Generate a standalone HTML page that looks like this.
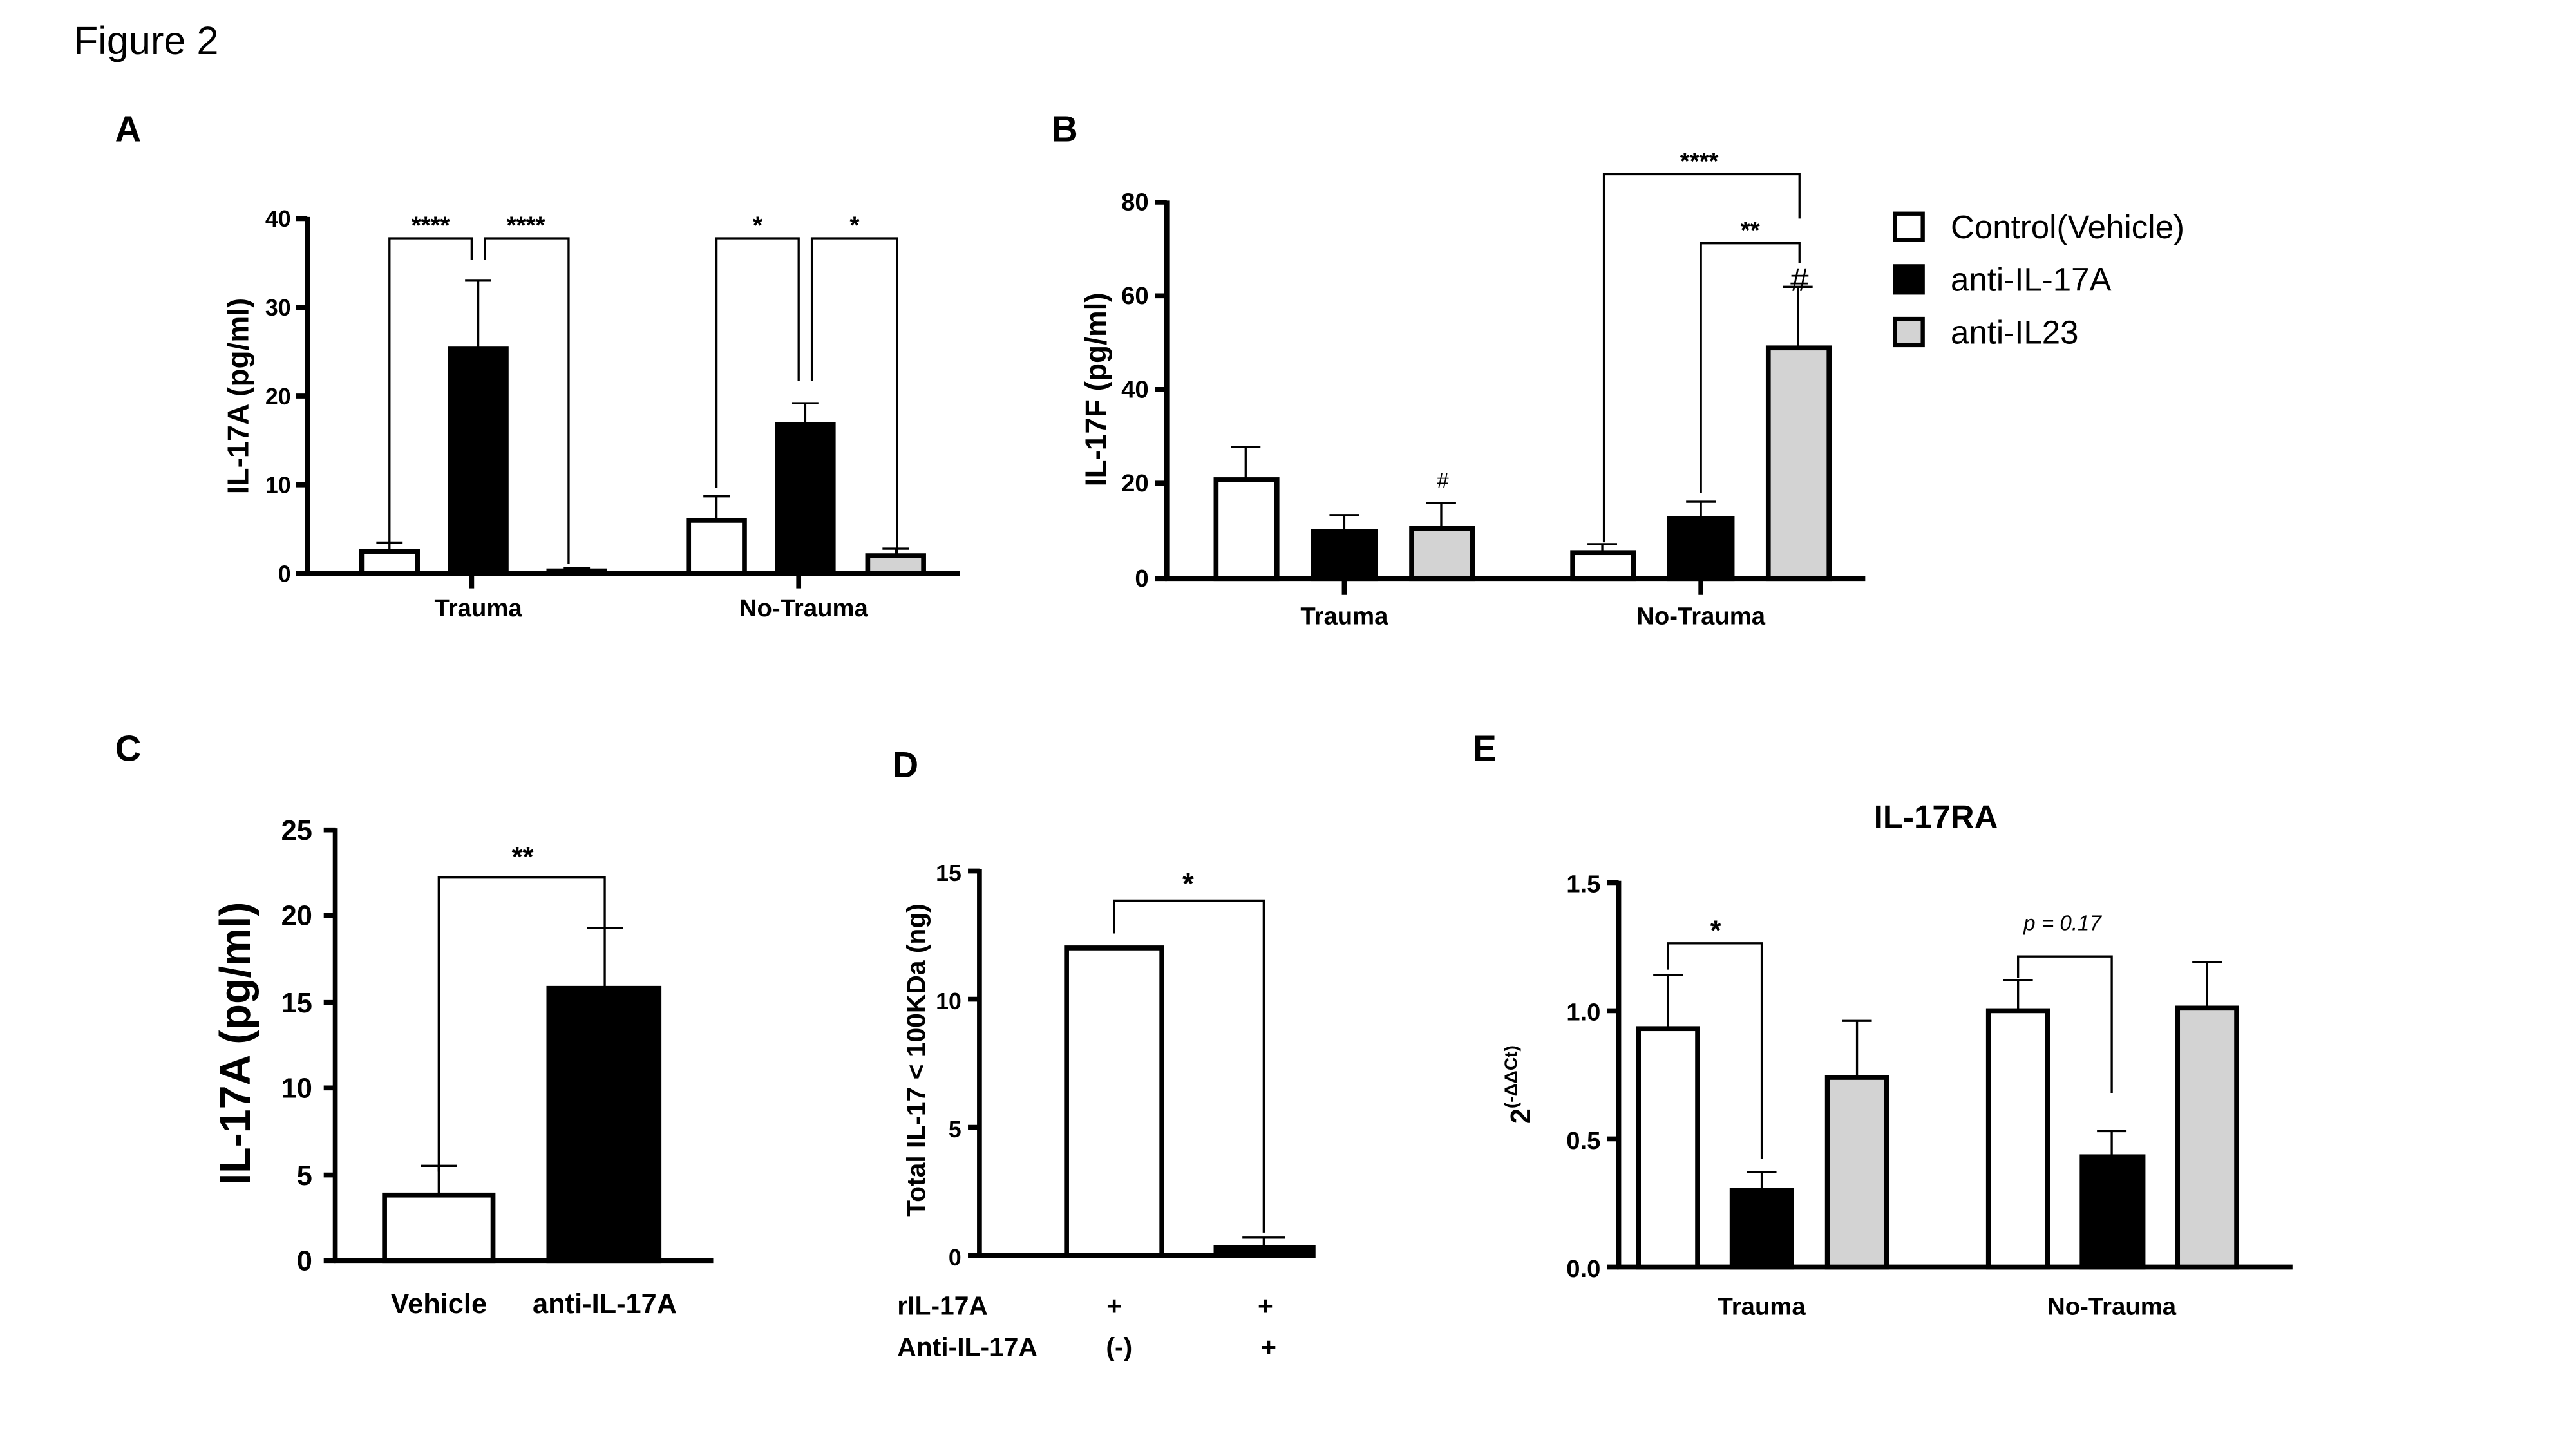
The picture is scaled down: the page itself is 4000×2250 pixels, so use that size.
<!DOCTYPE html>
<html><head><meta charset="utf-8"><style>html,body{margin:0;padding:0;background:#fff}svg{display:block}</style></head>
<body>
<svg width="4000" height="2250" viewBox="0 0 1567.5 881.7" preserveAspectRatio="none" xmlns="http://www.w3.org/2000/svg" font-family="Liberation Sans, Arial, sans-serif">
<rect width="1600" height="900" fill="#fff"/>
<text x="45" y="33" font-size="24">Figure 2</text>
<g font-weight="bold" font-size="22">
<text x="70" y="86">A</text><text x="640" y="86">B</text><text x="70" y="463">C</text><text x="543" y="473">D</text><text x="896" y="463">E</text>
</g>

<!-- Panel A -->
<g stroke="#000" fill="none">
<g stroke-width="3">
<line x1="187" y1="132" x2="187" y2="350"/><line x1="186" y1="349" x2="584" y2="349"/>
<line x1="180" y1="133" x2="187" y2="133"/><line x1="180" y1="187" x2="187" y2="187"/><line x1="180" y1="241" x2="187" y2="241"/><line x1="180" y1="295" x2="187" y2="295"/><line x1="180" y1="349" x2="187" y2="349"/>
<line x1="287" y1="349" x2="287" y2="358"/><line x1="486" y1="349" x2="486" y2="358"/>
</g>
<g stroke-width="1.3">
<line x1="237" y1="335.5" x2="237" y2="330.1"/><line x1="229" y1="330.1" x2="245" y2="330.1"/>
<line x1="291" y1="212.4" x2="291" y2="170.8"/><line x1="283" y1="170.8" x2="299" y2="170.8"/>
<line x1="351" y1="347.4" x2="351" y2="345.8"/><line x1="343" y1="345.8" x2="359" y2="345.8"/>
<line x1="436" y1="316.6" x2="436" y2="302"/><line x1="428" y1="302" x2="444" y2="302"/>
<line x1="490" y1="258.3" x2="490" y2="245.3"/><line x1="482" y1="245.3" x2="498" y2="245.3"/>
<line x1="545" y1="338.2" x2="545" y2="333.9"/><line x1="537" y1="333.9" x2="553" y2="333.9"/>
<polyline points="237,330 237,145 287,145 287,158"/><polyline points="295,158 295,145 346,145 346,343"/>
<polyline points="436,297 436,145 486,145 486,232"/><polyline points="494,232 494,145 546,145 546,338"/>
</g>
<g stroke-width="3">
<rect x="220" y="335.5" width="34" height="13.5" fill="#fff"/>
<rect x="274" y="212.4" width="34" height="136.6" fill="#000"/>
<rect x="334" y="347.4" width="34" height="1.6" fill="#d3d3d3"/>
<rect x="419" y="316.6" width="34" height="32.4" fill="#fff"/>
<rect x="473" y="258.3" width="34" height="90.7" fill="#000"/>
<rect x="528" y="338.2" width="34" height="10.8" fill="#d3d3d3"/>
</g>
</g>
<g font-weight="bold" font-size="14" text-anchor="end">
<text x="177" y="138">40</text><text x="177" y="192">30</text><text x="177" y="246">20</text><text x="177" y="300">10</text><text x="177" y="354">0</text>
</g>
<g font-weight="bold" font-size="15" text-anchor="middle">
<text x="291" y="375">Trauma</text><text x="489" y="375">No-Trauma</text>
<text x="262" y="142">****</text><text x="320" y="142">****</text><text x="461" y="142">*</text><text x="520" y="142">*</text>
</g>
<text transform="translate(151,241) rotate(-90)" font-weight="bold" font-size="18" text-anchor="middle">IL-17A (pg/ml)</text>

<!-- Panel B -->
<g stroke="#000" fill="none">
<g stroke-width="3">
<line x1="710" y1="122" x2="710" y2="353"/><line x1="709" y1="352" x2="1135" y2="352"/>
<line x1="703" y1="123" x2="710" y2="123"/><line x1="703" y1="180" x2="710" y2="180"/><line x1="703" y1="237" x2="710" y2="237"/><line x1="703" y1="294" x2="710" y2="294"/><line x1="703" y1="352" x2="710" y2="352"/>
<line x1="818" y1="352" x2="818" y2="362"/><line x1="1035" y1="352" x2="1035" y2="362"/>
</g>
<g stroke-width="1.3">
<line x1="758" y1="291.9" x2="758" y2="271.9"/><line x1="749" y1="271.9" x2="767" y2="271.9"/>
<line x1="818" y1="323.4" x2="818" y2="313.4"/><line x1="809" y1="313.4" x2="827" y2="313.4"/>
<line x1="877" y1="321.4" x2="877" y2="306.2"/><line x1="868" y1="306.2" x2="886" y2="306.2"/>
<line x1="975" y1="336.3" x2="975" y2="331.1"/><line x1="966" y1="331.1" x2="984" y2="331.1"/>
<line x1="1035" y1="315.4" x2="1035" y2="305.3"/><line x1="1026" y1="305.3" x2="1044" y2="305.3"/>
<line x1="1094" y1="211.7" x2="1094" y2="174.5"/><line x1="1085" y1="174.5" x2="1103" y2="174.5"/>
<polyline points="976,330 976,106 1095,106 1095,133"/><polyline points="1035,300 1035,148 1095,148 1095,160"/>
</g>
<g stroke-width="3">
<rect x="740" y="291.9" width="37" height="60.1" fill="#fff"/>
<rect x="799" y="323.4" width="38" height="28.6" fill="#000"/>
<rect x="859" y="321.4" width="37" height="30.6" fill="#d3d3d3"/>
<rect x="957" y="336.3" width="37" height="15.7" fill="#fff"/>
<rect x="1016" y="315.4" width="38" height="36.6" fill="#000"/>
<rect x="1076" y="211.7" width="37" height="140.3" fill="#d3d3d3"/>
</g>
</g>
<g font-weight="bold" font-size="15" text-anchor="end">
<text x="699" y="128">80</text><text x="699" y="185">60</text><text x="699" y="242">40</text><text x="699" y="299">20</text><text x="699" y="357">0</text>
</g>
<g font-weight="bold" font-size="15" text-anchor="middle">
<text x="818" y="380">Trauma</text><text x="1035" y="380">No-Trauma</text>
<text x="1034" y="103">****</text><text x="1065" y="145">**</text>
</g>
<text x="878" y="297" font-size="13" text-anchor="middle">#</text>
<text x="1095" y="177" font-size="20" text-anchor="middle">#</text>
<text transform="translate(673,237) rotate(-90)" font-weight="bold" font-size="18" text-anchor="middle">IL-17F (pg/ml)</text>

<!-- Legend -->
<g stroke="#000" stroke-width="2.5">
<rect x="1153" y="130" width="17" height="16" fill="#fff"/>
<rect x="1153" y="162" width="17" height="16" fill="#000"/>
<rect x="1153" y="194" width="17" height="16" fill="#d3d3d3"/>
</g>
<g font-size="20"><text x="1187" y="145">Control(Vehicle)</text><text x="1187" y="177">anti-IL-17A</text><text x="1187" y="209">anti-IL23</text></g>

<!-- Panel C -->
<g stroke="#000" fill="none">
<g stroke-width="3">
<line x1="204" y1="504" x2="204" y2="768"/><line x1="203" y1="767" x2="434" y2="767"/>
<line x1="197" y1="505" x2="204" y2="505"/><line x1="197" y1="557" x2="204" y2="557"/><line x1="197" y1="610" x2="204" y2="610"/><line x1="197" y1="662" x2="204" y2="662"/><line x1="197" y1="715" x2="204" y2="715"/><line x1="197" y1="767" x2="204" y2="767"/>
</g>
<g stroke-width="1.3">
<line x1="267" y1="727.2" x2="267" y2="709.4"/><line x1="256" y1="709.4" x2="278" y2="709.4"/>
<line x1="368" y1="601.4" x2="368" y2="564.7"/><line x1="357" y1="564.7" x2="379" y2="564.7"/>
<polyline points="267,713 267,534 368,534 368,564"/>
</g>
<g stroke-width="3">
<rect x="234" y="727.2" width="66" height="39.8" fill="#fff"/>
<rect x="334" y="601.4" width="67" height="165.6" fill="#000"/>
</g>
</g>
<g font-weight="bold" font-size="17" text-anchor="end">
<text x="190" y="511">25</text><text x="190" y="563">20</text><text x="190" y="616">15</text><text x="190" y="668">10</text><text x="190" y="721">5</text><text x="190" y="773">0</text>
</g>
<g font-weight="bold" font-size="17" text-anchor="middle">
<text x="267" y="799">Vehicle</text><text x="368" y="799">anti-IL-17A</text><text x="318" y="527">**</text>
</g>
<text transform="translate(152,635) rotate(-90)" font-weight="bold" font-size="26" text-anchor="middle">IL-17A (pg/ml)</text>

<!-- Panel D -->
<g stroke="#000" fill="none">
<g stroke-width="3">
<line x1="596" y1="529" x2="596" y2="765"/><line x1="595" y1="764" x2="798" y2="764"/>
<line x1="589" y1="530" x2="596" y2="530"/><line x1="589" y1="608" x2="596" y2="608"/><line x1="589" y1="686" x2="596" y2="686"/><line x1="589" y1="764" x2="596" y2="764"/>
</g>
<g stroke-width="1.3">
<line x1="769" y1="759.3" x2="769" y2="753.1"/><line x1="756" y1="753.1" x2="782" y2="753.1"/>
<polyline points="678,568 678,548 769,548 769,750"/>
</g>
<g stroke-width="3">
<rect x="649" y="576.8" width="58" height="187.2" fill="#fff"/>
<rect x="740" y="759.3" width="59" height="4.7" fill="#000"/>
</g>
</g>
<g font-weight="bold" font-size="14" text-anchor="end">
<text x="585" y="536">15</text><text x="585" y="614">10</text><text x="585" y="692">5</text><text x="585" y="770">0</text>
</g>
<g font-weight="bold" font-size="16">
<text x="546" y="800">rIL-17A</text><text x="546" y="825">Anti-IL-17A</text>
<text x="678" y="800" text-anchor="middle">+</text><text x="770" y="800" text-anchor="middle">+</text>
<text x="681" y="825" text-anchor="middle">(-)</text><text x="772" y="825" text-anchor="middle">+</text>
</g>
<text x="723" y="544" font-weight="bold" font-size="18" text-anchor="middle">*</text>
<text transform="translate(563,645) rotate(-90)" font-weight="bold" font-size="16" text-anchor="middle">Total IL-17 &lt; 100KDa (ng)</text>

<!-- Panel E -->
<text x="1178" y="504" font-weight="bold" font-size="20" text-anchor="middle">IL-17RA</text>
<g stroke="#000" fill="none">
<g stroke-width="3">
<line x1="985" y1="536" x2="985" y2="772"/><line x1="984" y1="771" x2="1395" y2="771"/>
<line x1="978" y1="537" x2="985" y2="537"/><line x1="978" y1="615" x2="985" y2="615"/><line x1="978" y1="693" x2="985" y2="693"/><line x1="978" y1="771" x2="985" y2="771"/>
</g>
<g stroke-width="1.3">
<line x1="1015" y1="625.9" x2="1015" y2="593.2"/><line x1="1006" y1="593.2" x2="1024" y2="593.2"/>
<line x1="1072" y1="724.2" x2="1072" y2="713.3"/><line x1="1063" y1="713.3" x2="1081" y2="713.3"/>
<line x1="1130" y1="655.6" x2="1130" y2="621.2"/><line x1="1121" y1="621.2" x2="1139" y2="621.2"/>
<line x1="1228" y1="615" x2="1228" y2="596.3"/><line x1="1219" y1="596.3" x2="1237" y2="596.3"/>
<line x1="1285" y1="703.9" x2="1285" y2="688.3"/><line x1="1276" y1="688.3" x2="1294" y2="688.3"/>
<line x1="1343" y1="613.4" x2="1343" y2="585.4"/><line x1="1334" y1="585.4" x2="1352" y2="585.4"/>
<polyline points="1015,590 1015,574 1072,574 1072,705"/>
<polyline points="1228,595 1228,582 1285,582 1285,665"/>
</g>
<g stroke-width="3">
<rect x="997" y="625.9" width="36" height="145.1" fill="#fff"/>
<rect x="1054" y="724.2" width="36" height="46.8" fill="#000"/>
<rect x="1112" y="655.6" width="36" height="115.4" fill="#d3d3d3"/>
<rect x="1210" y="615" width="36" height="156" fill="#fff"/>
<rect x="1267" y="703.9" width="37" height="67.1" fill="#000"/>
<rect x="1325" y="613.4" width="36" height="157.6" fill="#d3d3d3"/>
</g>
</g>
<g font-weight="bold" font-size="15" text-anchor="end">
<text x="974" y="543">1.5</text><text x="974" y="621">1.0</text><text x="974" y="699">0.5</text><text x="974" y="777">0.0</text>
</g>
<g font-weight="bold" font-size="15" text-anchor="middle">
<text x="1072" y="800">Trauma</text><text x="1285" y="800">No-Trauma</text>
<text x="1044" y="572" font-size="17">*</text>
</g>
<text x="1255" y="566" font-style="italic" font-size="13" text-anchor="middle">p = 0.17</text>
<text transform="translate(931,660) rotate(-90)" font-weight="bold" font-size="17" text-anchor="middle">2<tspan font-size="11" dy="-8">(-ΔΔCt)</tspan></text>
</svg>
</body></html>
